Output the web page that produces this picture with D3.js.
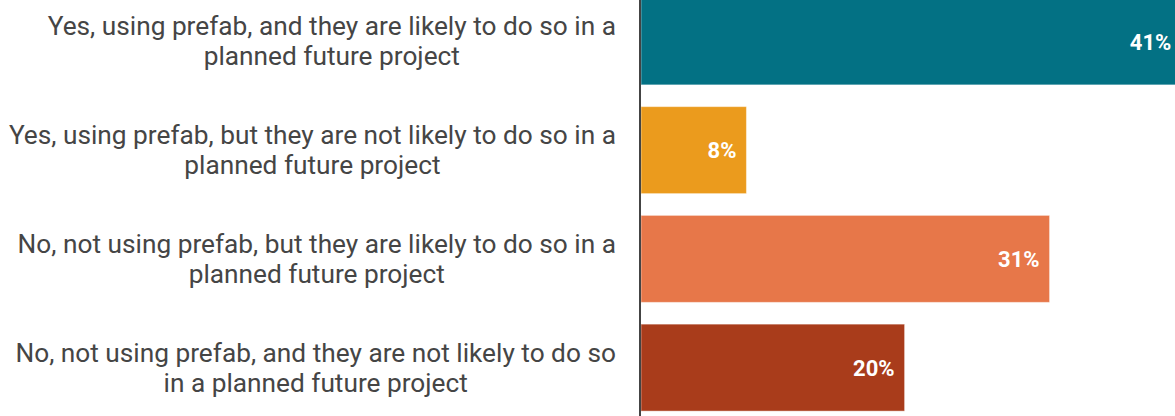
<!DOCTYPE html>
<html>
<head>
<meta charset="utf-8">
<script src="https://cdn.jsdelivr.net/npm/d3@7"></script>
<style>
  html, body { margin: 0; padding: 0; background: #fff; }
  svg { display: block; }
</style>
</head>
<body>
<script>
// Survey answers: who is using prefab now, and who plans to
const categories = [
  ["Yes, using prefab, and they are likely to do so in a", "planned future project"],
  ["Yes, using prefab, but they are not likely to do so in a", "planned future project"],
  ["No, not using prefab, but they are likely to do so in a", "planned future project"],
  ["No, not using prefab, and they are not likely to do so", "in a planned future project"]
];
const values = [41, 8, 31, 20];
const valueLabels = ["41%", "8%", "31%", "20%"];
const colors = ["#037184", "#EB9B1D", "#E77749", "#A93C1B"];

const W = 1175, H = 416;
const axisX = 640;

const svg = d3.select("body").append("svg")
  .attr("width", W).attr("height", H);

const keys = d3.range(values.length);

const y = d3.scaleBand()
  .domain(keys)
  .range([-13, 422])
  .paddingInner(0.2)
  .paddingOuter(0.1);

const x = d3.scaleLinear()
  .domain([0, 41])
  .range([axisX + 1, axisX + 1 + 41 * 13.18]);

// bars
svg.append("g").selectAll("rect")
  .data(keys)
  .join("rect")
  .attr("x", x(0))
  .attr("y", i => y(i))
  .attr("width", i => x(values[i]) - x(0))
  .attr("height", y.bandwidth())
  .attr("fill", i => colors[i])
  .attr("stroke", "rgba(255,255,255,0.45)")
  .attr("stroke-width", 1);

// value labels inside the bar ends
svg.append("g").selectAll("text")
  .data(keys)
  .join("text")
  .attr("x", i => x(values[i]) - 10)
  .attr("y", i => y(i) + y.bandwidth() / 2)
  .attr("dy", "0.38em")
  .attr("text-anchor", "end")
  .attr("font-family", "Roboto, 'Noto Sans', sans-serif")
  .attr("font-weight", 700)
  .attr("font-size", 22)
  .attr("fill", "#fff")
  .text(i => valueLabels[i]);

// category labels: two-line blocks, right-aligned, lines centred within the block
const catFont = 25;
const widen = 1.05;
const lineGap = 30;
const labelRight = 616;
const cats = svg.append("g")
  .attr("font-family", "Roboto, 'Noto Sans', sans-serif")
  .attr("font-size", catFont)
  .attr("fill", "#454545");

keys.forEach(i => {
  const lines = categories[i];
  const cy = y(i) + y.bandwidth() / 2;
  const texts = lines.map((t, j) => cats.append("text")
    .attr("x", 0)
    .attr("y", 0)
    .attr("dy", "0.36em")
    .attr("text-anchor", "middle")
    .attr("data-ty", cy + (j - (lines.length - 1) / 2) * lineGap)
    .text(t));
  const maxW = d3.max(texts, t => t.node().getComputedTextLength()) * widen;
  texts.forEach(t => t.attr("transform",
    `translate(${labelRight - maxW / 2},${+t.attr("data-ty")}) scale(${widen},1)`));
});

// category axis line
svg.append("line")
  .attr("x1", axisX).attr("x2", axisX)
  .attr("y1", 0).attr("y2", H)
  .attr("stroke", "#444")
  .attr("stroke-width", 2);
</script>
</body>
</html>
